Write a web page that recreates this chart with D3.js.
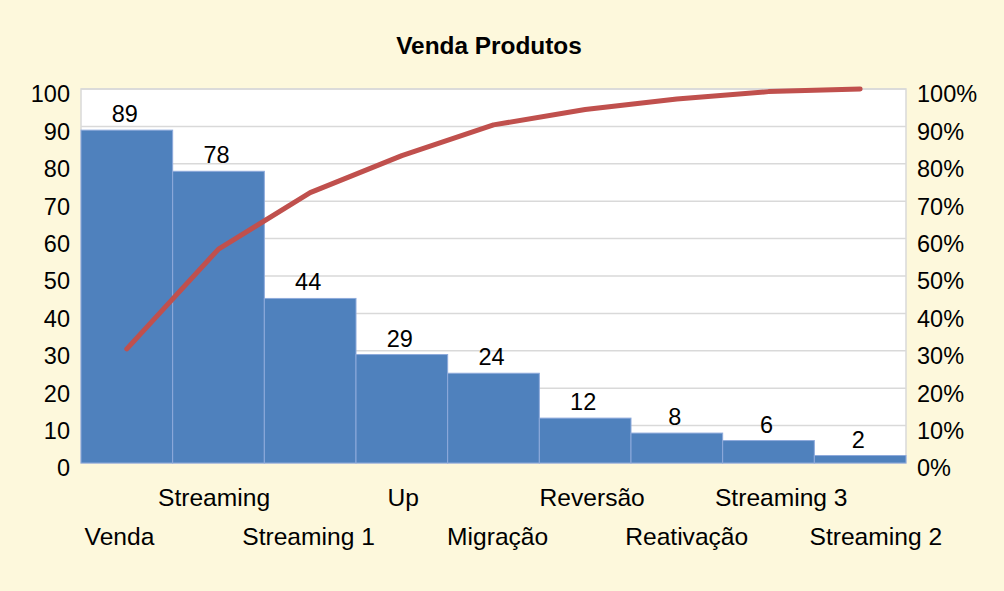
<!DOCTYPE html>
<html>
<head>
<meta charset="utf-8">
<script src="https://cdn.jsdelivr.net/npm/d3@7/dist/d3.min.js"></script>
<style>
  html, body { margin: 0; padding: 0; background: #fdf8dc; }
  svg { display: block; }
  text { font-family: Arial, "Liberation Sans", sans-serif; fill: #000; }
</style>
</head>
<body>
<div id="chart"></div>
<script>
const title = "Venda Produtos";
const categories = ["Venda", "Streaming", "Streaming 1", "Up", "Migração", "Reversão", "Reativação", "Streaming 3", "Streaming 2"];
const sales = [89, 78, 44, 29, 24, 12, 8, 6, 2];
const cumulativePct = [30.5, 57.2, 72.3, 82.2, 90.4, 94.5, 97.3, 99.3, 100];
const leftTicks = [0, 10, 20, 30, 40, 50, 60, 70, 80, 90, 100];
const rightTicks = [0, 10, 20, 30, 40, 50, 60, 70, 80, 90, 100];

const W = 1004, H = 591;
const m = { left: 81, right: 98, top: 89, bottom: 128 };
const iw = W - m.left - m.right, ih = H - m.top - m.bottom;

const svg = d3.select("#chart").append("svg").attr("width", W).attr("height", H);
svg.append("rect").attr("width", W).attr("height", H).attr("fill", "#fdf8dc");

const g = svg.append("g").attr("transform", `translate(${m.left},${m.top})`);

const x = d3.scaleBand().domain(categories).range([0, iw]).padding(0);
const y = d3.scaleLinear().domain([0, 100]).range([ih, 0]);
const yp = d3.scaleLinear().domain([0, 100]).range([ih, 0]);
// category label placement (labels are spread slightly wider than the bands)
const xl = d3.scalePoint().domain(categories).range([38.5, 794.8]);

// plot area
g.append("rect").attr("width", iw).attr("height", ih).attr("fill", "#ffffff")
  .attr("stroke", "#d9d9d9").attr("stroke-width", 1.5);

// gridlines
g.append("g").selectAll("line").data(leftTicks).join("line")
  .attr("x1", 0).attr("x2", iw)
  .attr("y1", d => y(d)).attr("y2", d => y(d))
  .attr("stroke", "#d9d9d9").attr("stroke-width", 1.5);

// bars
g.append("g").selectAll("rect").data(sales).join("rect")
  .attr("x", (d, i) => x(categories[i]))
  .attr("y", d => y(d))
  .attr("width", x.bandwidth())
  .attr("height", d => ih - y(d))
  .attr("fill", "#4f81bd")
  .attr("stroke", "#8eaadb").attr("stroke-width", 1);

// data labels
g.append("g").selectAll("text").data(sales).join("text")
  .attr("x", (d, i) => x(categories[i]) + x.bandwidth() / 2 - 2)
  .attr("y", d => y(d) - 8)
  .attr("text-anchor", "middle")
  .style("font-size", "23.5px")
  .text(d => d);

// cumulative line
const line = d3.line()
  .x((d, i) => x(categories[i]) + x.bandwidth() / 2)
  .y(d => yp(d));
g.append("path").datum(cumulativePct)
  .attr("d", line)
  .attr("fill", "none")
  .attr("stroke", "#c0504d")
  .attr("stroke-width", 5)
  .attr("stroke-linecap", "round")
  .attr("stroke-linejoin", "round");

// left axis
const yAxis = d3.axisLeft(y).tickValues(leftTicks).tickSize(0).tickPadding(11);
const ga = g.append("g").call(yAxis);
ga.select(".domain").remove();
ga.selectAll("text").style("font-size", "23.5px").attr("dy", "0.55em")
  .style("font-family", "Arial, 'Liberation Sans', sans-serif").attr("fill", "#000");

// right axis
const yAxisR = d3.axisRight(yp).tickValues(rightTicks).tickSize(0).tickPadding(11)
  .tickFormat(d => d + "%");
const gr = g.append("g").attr("transform", `translate(${iw},0)`).call(yAxisR);
gr.select(".domain").remove();
gr.selectAll("text").style("font-size", "23.5px").attr("dy", "0.55em")
  .style("font-family", "Arial, 'Liberation Sans', sans-serif").attr("fill", "#000");

// category labels (staggered)
g.append("g").selectAll("text").data(categories).join("text")
  .attr("x", d => xl(d))
  .attr("y", (d, i) => i % 2 === 1 ? ih + 43 : ih + 82)
  .attr("text-anchor", "middle")
  .style("font-size", "24.6px")
  .text(d => d);

// title
svg.append("text")
  .attr("x", 489).attr("y", 54)
  .attr("text-anchor", "middle")
  .style("font-size", "24.4px").style("font-weight", "bold")
  .text(title);
</script>
</body>
</html>
